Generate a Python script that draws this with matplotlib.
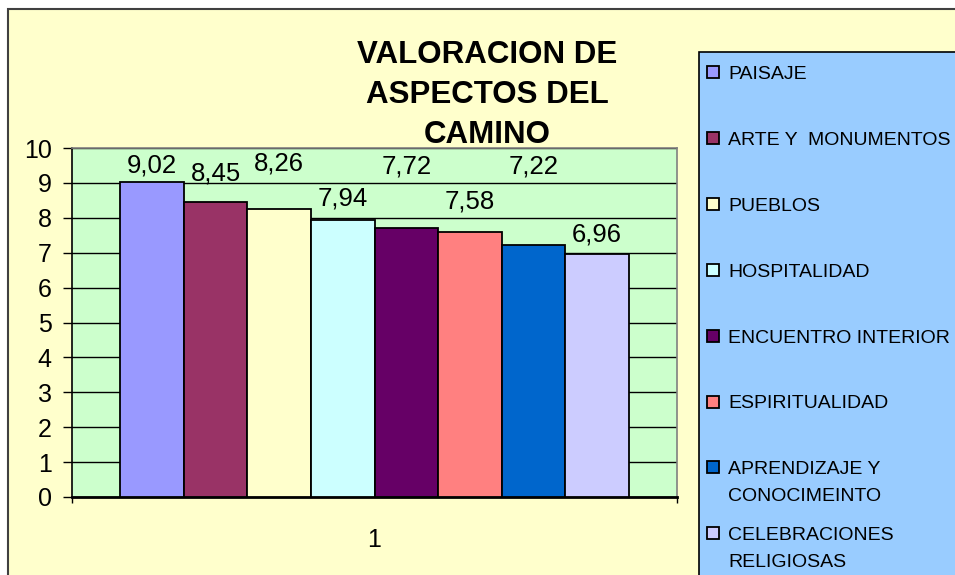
import numpy as np
import matplotlib.pyplot as plt
from matplotlib.patches import Rectangle

plt.rcParams['font.family'] = ['Liberation Sans', 'DejaVu Sans']

# data
categories = ['PAISAJE', 'ARTE Y  MONUMENTOS', 'PUEBLOS', 'HOSPITALIDAD',
              'ENCUENTRO INTERIOR', 'ESPIRITUALIDAD',
              'APRENDIZAJE Y\nCONOCIMEINTO', 'CELEBRACIONES\nRELIGIOSAS']
values = [9.02, 8.45, 8.26, 7.94, 7.72, 7.58, 7.22, 6.96]
value_labels = ['9,02', '8,45', '8,26', '7,94', '7,72', '7,58', '7,22', '6,96']
colors = ['#9999FF', '#993366', '#FFFFCC', '#CCFFFF',
          '#660066', '#FF8080', '#0066CC', '#CCCCFF']
# where excel put the value labels (in y units), they are staggered
label_y = [9.51, 9.28, 9.57, 8.54, 9.46, 8.48, 9.46, 7.51]

W, H = 955, 575
fig = plt.figure(figsize=(W / 100, H / 100), dpi=100)
fig.patch.set_facecolor('white')

# chart area (light yellow, cut off at right/bottom)
fig.patches.append(Rectangle((7.5 / W, -0.05), 1.2, 1 - 9 / H + 0.05,
                             transform=fig.transFigure, facecolor='#FFFFCC',
                             edgecolor='#404040', lw=1.5, zorder=-2))

ax = fig.add_axes([72 / W, 1 - 497 / H, (677 - 72) / W, (497 - 148) / H])
ax.set_facecolor('#CCFFCC')

w = 0.105
n = len(values)
x = 1 + (np.arange(n) - (n - 1) / 2) * w
ax.bar(x, values, width=w, color=colors, edgecolor='black', linewidth=1.3, zorder=3)

for xi, yl, txt in zip(x, label_y, value_labels):
    ax.text(xi, yl, txt, ha='center', va='center', fontsize=18.5, zorder=4)

ax.set_xlim(0.5, 1.5)
ax.set_ylim(0, 10)
ax.set_yticks(range(0, 11))
ax.yaxis.grid(True, color='black', lw=1)
ax.set_axisbelow(True)
ax.tick_params(axis='y', length=6.5, width=1, pad=8, labelsize=18)

ax.set_xticks([0.5, 1.5], ['', ''])
ax.tick_params(axis='x', which='major', length=4, width=1)
ax.set_xticks([1], ['1'], minor=True)
ax.tick_params(axis='x', which='minor', length=0, pad=22, labelsize=18)

for s in ['top', 'right']:
    ax.spines[s].set_color('#808080')
    ax.spines[s].set_linewidth(1.2)
ax.spines['left'].set_linewidth(1.2)
ax.spines['bottom'].set_linewidth(2)

# title
fig.text(487 / W, 1 - 95 / H, 'VALORACION DE\nASPECTOS DEL\nCAMINO',
         ha='center', va='center', fontsize=22.5, fontweight='bold',
         linespacing=1.45)

# legend box, drawn by hand so two-line names keep the marker on the first line
fig.patches.append(Rectangle((699 / W, -0.05), 0.5, 1 - 52 / H + 0.05,
                             transform=fig.transFigure, facecolor='#99CCFF',
                             edgecolor='black', lw=1.2, zorder=-1))
first = 72
step = 65.9
sq = 12
for i, (name, c) in enumerate(zip(categories, colors)):
    yc = first + i * step
    fig.patches.append(Rectangle((707 / W, 1 - (yc + sq / 2) / H), sq / W, sq / H,
                                 transform=fig.transFigure, facecolor=c,
                                 edgecolor='black', lw=1.3, zorder=2))
    for k, line in enumerate(name.split('\n')):
        fig.text(728 / W, 1 - (yc + 7 + k * 27) / H, line, ha='left',
                 va='baseline', fontsize=14)

fig.savefig('out.png', dpi=100)
